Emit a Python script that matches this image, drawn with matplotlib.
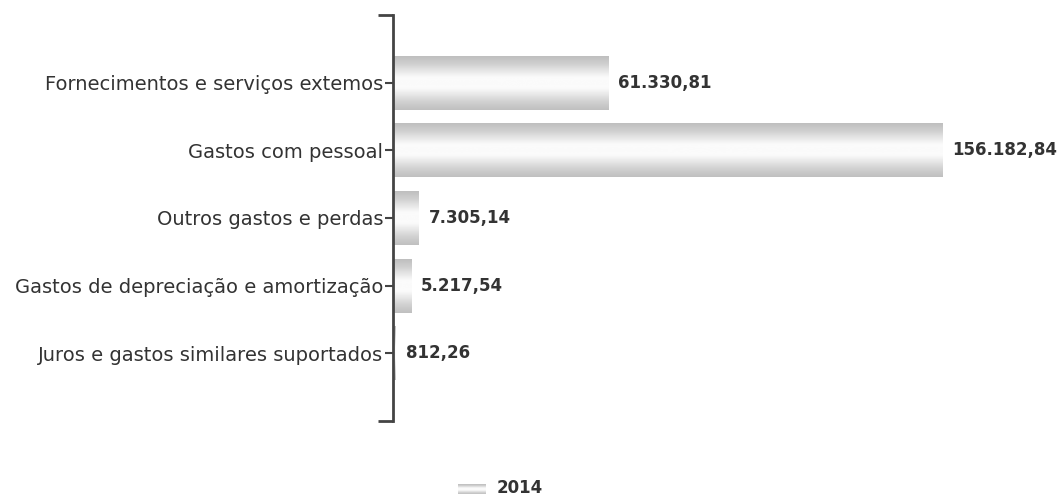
import numpy as np
import matplotlib.pyplot as plt
from matplotlib.colors import LinearSegmentedColormap

categories = [
    "Fornecimentos e serviços extemos",
    "Gastos com pessoal",
    "Outros gastos e perdas",
    "Gastos de depreciação e amortização",
    "Juros e gastos similares suportados",
]
values_2014 = [61330.81, 156182.84, 7305.14, 5217.54, 812.26]
value_labels = ["61.330,81", "156.182,84", "7.305,14", "5.217,54", "812,26"]
series_name = "2014"

# grey edges fading to white in the middle, like a shaded cylinder
shade = LinearSegmentedColormap.from_list(
    "shade",
    [(0.0, "#bdbdbd"), (0.15, "#cfcfcf"), (0.4, "#fbfbfb"),
     (0.6, "#fbfbfb"), (0.85, "#d2d2d2"), (1.0, "#c0c0c0")],
)
grad = np.linspace(0, 1, 64).reshape(-1, 1)

fig = plt.figure(figsize=(10.61, 4.95), dpi=100)
ax = fig.add_axes([0.3704, 0.1495, 0.547, 0.8202])

pos = np.arange(len(categories))
bars = ax.barh(pos, values_2014, height=0.8, color="white", edgecolor="none")

for b in bars:
    x0, y0 = b.get_x(), b.get_y()
    w, h = b.get_width(), b.get_height()
    im = ax.imshow(grad, cmap=shade, aspect="auto", interpolation="bilinear",
                   extent=(x0, x0 + w, y0 + h, y0), zorder=2)
    im.set_clip_path(b)

for p, v, lab in zip(pos, values_2014, value_labels):
    ax.annotate(lab, (v, p), xytext=(7, 0), textcoords="offset points",
                va="center", ha="left", fontsize=12, fontweight="bold",
                color="#333333")

ax.set_xlim(0, 165000)
ax.set_ylim(5, -1)

ax.set_yticks(pos)
ax.set_yticklabels(categories, fontsize=14, color="#333333")
ax.set_yticks([-1, 5], minor=True)
ax.tick_params(axis="y", which="major", length=6, width=1.5, color="#444444", pad=1)
ax.tick_params(axis="y", which="minor", length=11, width=2, color="#444444")
ax.set_xticks([])

for s in ["top", "right", "bottom"]:
    ax.spines[s].set_visible(False)
ax.spines["left"].set_linewidth(2)
ax.spines["left"].set_color("#444444")

# legend swatch with the same shading
sw_ax = fig.add_axes([458 / 1061, 1 - 494 / 495, 28 / 1061, 10 / 495])
sw_ax.imshow(grad, cmap=shade, aspect="auto", interpolation="bilinear")
sw_ax.axis("off")
fig.text(497 / 1061, 1 - 488 / 495, series_name, fontsize=12, fontweight="bold",
         color="#333333", va="center", ha="left")

fig.savefig("out.png", dpi=100)
